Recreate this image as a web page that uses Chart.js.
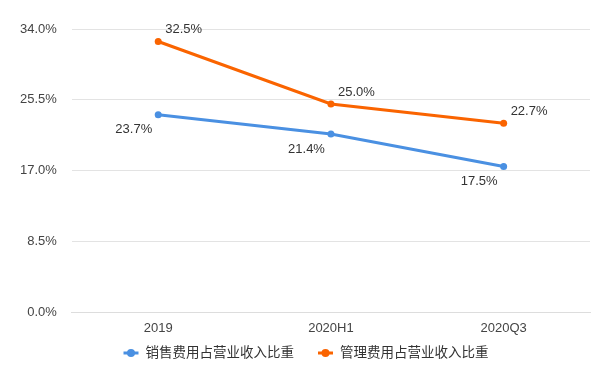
<!DOCTYPE html>
<html><head><meta charset="utf-8">
<script src="https://cdn.jsdelivr.net/npm/chart.js@4/dist/chart.umd.min.js"></script>
<style>html,body{margin:0;padding:0;background:#fff}#wrap{width:615px;height:373px}</style>
</head><body><div id="wrap"><canvas id="c" width="615" height="373"></canvas></div>
<script>
const categories = ['2019', '2020H1', '2020Q3'];
const salesRatio = [23.7, 21.4, 17.5];
const mgmtRatio = [32.5, 25.0, 22.7];
const seriesNames = ['销售费用占营业收入比重', '管理费用占营业收入比重'];
const yTicks = [0, 8.5, 17, 25.5, 34];

const BLUE = '#4a90e2', ORANGE = '#fa6400';
const FONT = '"Liberation Sans", Arial, "Noto Sans CJK SC", sans-serif';

const labelPlugin = {
  id: 'vlabels',
  afterDatasetsDraw(chart){
    const ctx = chart.ctx;
    ctx.save();
    ctx.font = '13px ' + FONT;
    ctx.fillStyle = '#333';
    ctx.textBaseline = 'middle';
    chart.data.datasets.forEach((ds, i) => {
      const meta = chart.getDatasetMeta(i);
      meta.data.forEach((p, j) => {
        const t = ds.data[j].toFixed(1) + '%';
        if (i === 0) { ctx.textAlign = 'right'; ctx.fillText(t, p.x - 6, p.y + 15); }
        else { ctx.textAlign = 'left'; ctx.fillText(t, p.x + 7, p.y - 12); }
      });
    });
    ctx.restore();
  }
};

const legendPlugin = {
  id: 'customLegend',
  afterDraw(chart){
    const ctx = chart.ctx;
    ctx.save();
    ctx.font = '13.5px ' + FONT;
    const markerW = 15, gapText = 7, gapItem = 24;
    const items = chart.data.datasets.map(ds => ({ color: ds.borderColor, text: ds.label, w: ctx.measureText(ds.label).width }));
    const total = items.reduce((s, it) => s + markerW + gapText + it.w, 0) + gapItem * (items.length - 1);
    let x = 306 - total / 2;
    const y = 353;
    items.forEach(it => {
      ctx.strokeStyle = it.color; ctx.lineWidth = 3;
      ctx.beginPath(); ctx.moveTo(x, y); ctx.lineTo(x + markerW, y); ctx.stroke();
      ctx.fillStyle = it.color; ctx.beginPath(); ctx.arc(x + markerW / 2, y, 4, 0, Math.PI * 2); ctx.fill();
      x += markerW + gapText;
      ctx.fillStyle = '#333'; ctx.textAlign = 'left'; ctx.textBaseline = 'middle';
      ctx.fillText(it.text, x, y);
      x += it.w + gapItem;
    });
    ctx.restore();
  }
};

new Chart(document.getElementById('c'), {
  type: 'line',
  data: {
    labels: categories,
    datasets: [
      { label: seriesNames[0], data: salesRatio, borderColor: BLUE, backgroundColor: BLUE, borderWidth: 3, pointRadius: 3.5, pointBorderWidth: 0, pointBackgroundColor: BLUE, tension: 0 },
      { label: seriesNames[1], data: mgmtRatio, borderColor: ORANGE, backgroundColor: ORANGE, borderWidth: 3, pointRadius: 3.5, pointBorderWidth: 0, pointBackgroundColor: ORANGE, tension: 0 }
    ]
  },
  options: {
    responsive: false,
    animation: false,
    devicePixelRatio: 1,
    layout: { padding: { top: 29, right: 25, left: 5, bottom: 29 } },
    plugins: {
      tooltip: { enabled: false },
      legend: { display: false }
    },
    scales: {
      x: {
        offset: true,
        grid: { display: false, drawTicks: false },
        border: { display: true, color: '#ddd' },
        ticks: { color: '#444', font: { size: 13, family: FONT }, padding: 8 }
      },
      y: {
        min: 0, max: 34,
        afterBuildTicks(scale){ scale.ticks = yTicks.map(v => ({ value: v })); },
        grid: { color: '#e3e3e3', drawTicks: false },
        border: { display: false },
        ticks: { color: '#444', font: { size: 13, family: FONT }, padding: 15, callback: v => v.toFixed(1) + '%' }
      }
    }
  },
  plugins: [labelPlugin, legendPlugin]
});
</script>
</body></html>
